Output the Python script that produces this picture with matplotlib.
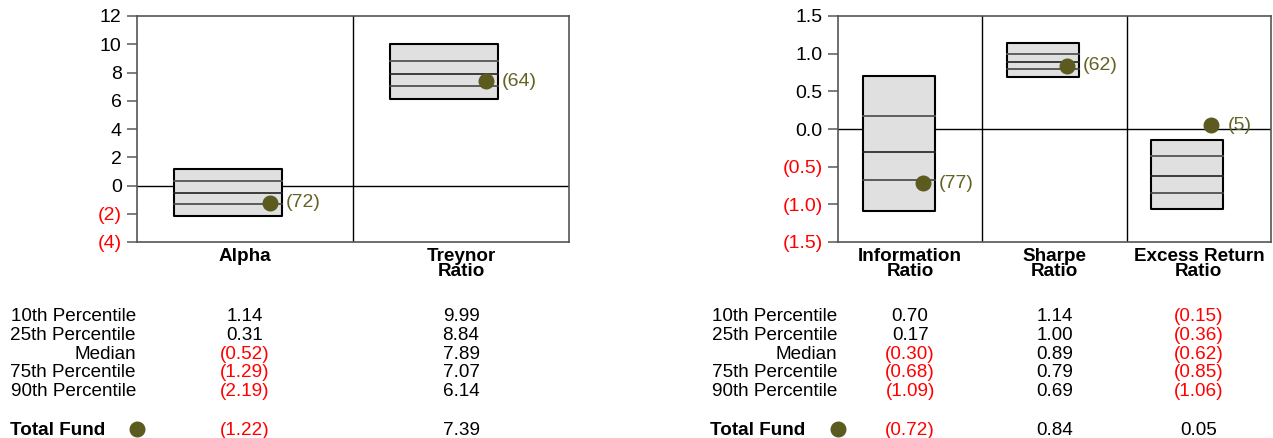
import matplotlib
matplotlib.use("Agg")
import matplotlib.pyplot as plt
import matplotlib.transforms as mtransforms
from matplotlib.ticker import FuncFormatter

plt.rcParams['font.family'] = ['Liberation Sans', 'DejaVu Sans']

# ---------------- data ----------------
left_categories = ['Alpha', 'Treynor\nRatio']
left_p10 = [1.14, 9.99]
left_p25 = [0.31, 8.84]
left_median = [-0.52, 7.89]
left_p75 = [-1.29, 7.07]
left_p90 = [-2.19, 6.14]
left_fund = [-1.22, 7.39]
left_rank = [72, 64]
left_yticks = [12, 10, 8, 6, 4, 2, 0, -2, -4]

right_categories = ['Information\nRatio', 'Sharpe\nRatio', 'Excess Return\nRatio']
right_p10 = [0.70, 1.14, -0.15]
right_p25 = [0.17, 1.00, -0.36]
right_median = [-0.30, 0.89, -0.62]
right_p75 = [-0.68, 0.79, -0.85]
right_p90 = [-1.09, 0.69, -1.06]
right_fund = [-0.72, 0.84, 0.05]
right_rank = [77, 62, 5]
right_yticks = [1.5, 1.0, 0.5, 0.0, -0.5, -1.0, -1.5]

row_labels = ['10th Percentile', '25th Percentile', 'Median', '75th Percentile', '90th Percentile']

# ---------------- style ----------------
W, H = 1273, 438
DPI = 100
DOT = '#5b5a1f'
DOT_TXT = '#646326'
RED = '#ff0000'
BOX_FILL = '#e0e0e0'
FS_TABLE = 13.6
FS_CAT = 13.6
FS_TICK = 14
FS_RANK = 14

fig = plt.figure(figsize=(W / DPI, H / DPI), dpi=DPI)


def fig_rect(x0, y0, x1, y1):
    return [x0 / W, 1 - y1 / H, (x1 - x0) / W, (y1 - y0) / H]


def fmt_val(v, dec):
    s = f"{abs(v):.{dec}f}"
    return (f"({s})", RED) if v < 0 else (s, 'black')


def draw_panel(rect, cats, p10, p25, med, p75, p90, fund, rank, yticks, dec,
               label_right_px, totalfund_left_px):
    ax = fig.add_axes(rect)
    n = len(cats)
    ax.set_xlim(-0.5, n - 0.5)
    ax.set_ylim(min(yticks), max(yticks))
    for s in ax.spines.values():
        s.set_color('#555555')
        s.set_linewidth(1.2)
    ax.axhline(0, color='black', lw=1.0, zorder=1)
    for i in range(1, n):
        ax.axvline(i - 0.5, color='black', lw=1.0, zorder=1)

    bw = 0.5
    off = -0.08
    dot_tr = mtransforms.offset_copy(ax.transData, fig=fig, x=-12, y=0, units='dots')
    lab_tr = mtransforms.offset_copy(ax.transData, fig=fig, x=4, y=0, units='dots')
    for i in range(n):
        x0 = i + off - bw / 2
        x1 = i + off + bw / 2
        ax.fill_between([x0, x1], p90[i], p10[i], facecolor=BOX_FILL,
                        edgecolor='black', lw=1.5, zorder=2)
        ax.plot([x0, x1], [p25[i], p25[i]], color='#555555', lw=1.3, zorder=3)
        ax.plot([x0, x1], [med[i], med[i]], color='#222222', lw=1.2, zorder=3)
        ax.plot([x0, x1], [p75[i], p75[i]], color='#444444', lw=1.2, zorder=3)
        ax.plot([x1], [fund[i]], 'o', color=DOT, ms=10.5, transform=dot_tr,
                zorder=5, clip_on=False)
        ax.text(x1, fund[i], f"({rank[i]})", transform=lab_tr, color=DOT_TXT,
                fontsize=FS_RANK, va='center', ha='left', zorder=5)

    ax.set_yticks(yticks)

    def yfmt(v, pos):
        if dec == 0:
            s = f"{abs(v):.0f}"
        else:
            s = f"{abs(v):.1f}"
        return f"({s})" if v < -1e-9 else s

    ax.yaxis.set_major_formatter(FuncFormatter(yfmt))
    ax.tick_params(axis='y', direction='out', length=7, width=1.2, color='#666666',
                   pad=4, labelsize=FS_TICK)
    for t, v in zip(ax.get_yticklabels(), yticks):
        if v < 0:
            t.set_color(RED)
    ax.set_xticks(range(n))
    ax.set_xticklabels(cats, fontsize=FS_CAT, fontweight='bold', linespacing=0.9)
    ax.tick_params(axis='x', length=0, pad=4)

    # table
    baselines = [321, 339.8, 358.6, 377.4, 396.4]
    for lbl, b in zip(row_labels, baselines):
        fig.text(label_right_px / W, 1 - b / H, lbl, ha='right', va='baseline',
                 fontsize=FS_TABLE)
    fig.text(totalfund_left_px / W, 1 - 435 / H, 'Total Fund', ha='left',
             va='baseline', fontsize=FS_TABLE, fontweight='bold')
    fig.add_artist(plt.Line2D([(label_right_px + 1) / W], [1 - 429 / H], marker='o',
                              color=DOT, ms=10.5, transform=fig.transFigure))
    inv = fig.transFigure.inverted()
    for i in range(n):
        xf = inv.transform(ax.transData.transform((i, 0)))[0]
        for vals, b in zip([p10, p25, med, p75, p90], baselines):
            s, c = fmt_val(vals[i], 2)
            fig.text(xf, 1 - b / H, s, ha='center', va='baseline', color=c,
                     fontsize=FS_TABLE)
        s, c = fmt_val(fund[i], 2)
        fig.text(xf, 1 - 435 / H, s, ha='center', va='baseline', color=c,
                 fontsize=FS_TABLE)
    return ax


draw_panel(fig_rect(137, 16, 569, 242), left_categories, left_p10, left_p25,
           left_median, left_p75, left_p90, left_fund, left_rank, left_yticks, 0,
           136, 9.5)
draw_panel(fig_rect(838, 16, 1271, 242), right_categories, right_p10, right_p25,
           right_median, right_p75, right_p90, right_fund, right_rank, right_yticks, 1,
           837, 710.5)

fig.savefig('out.png', dpi=DPI)
